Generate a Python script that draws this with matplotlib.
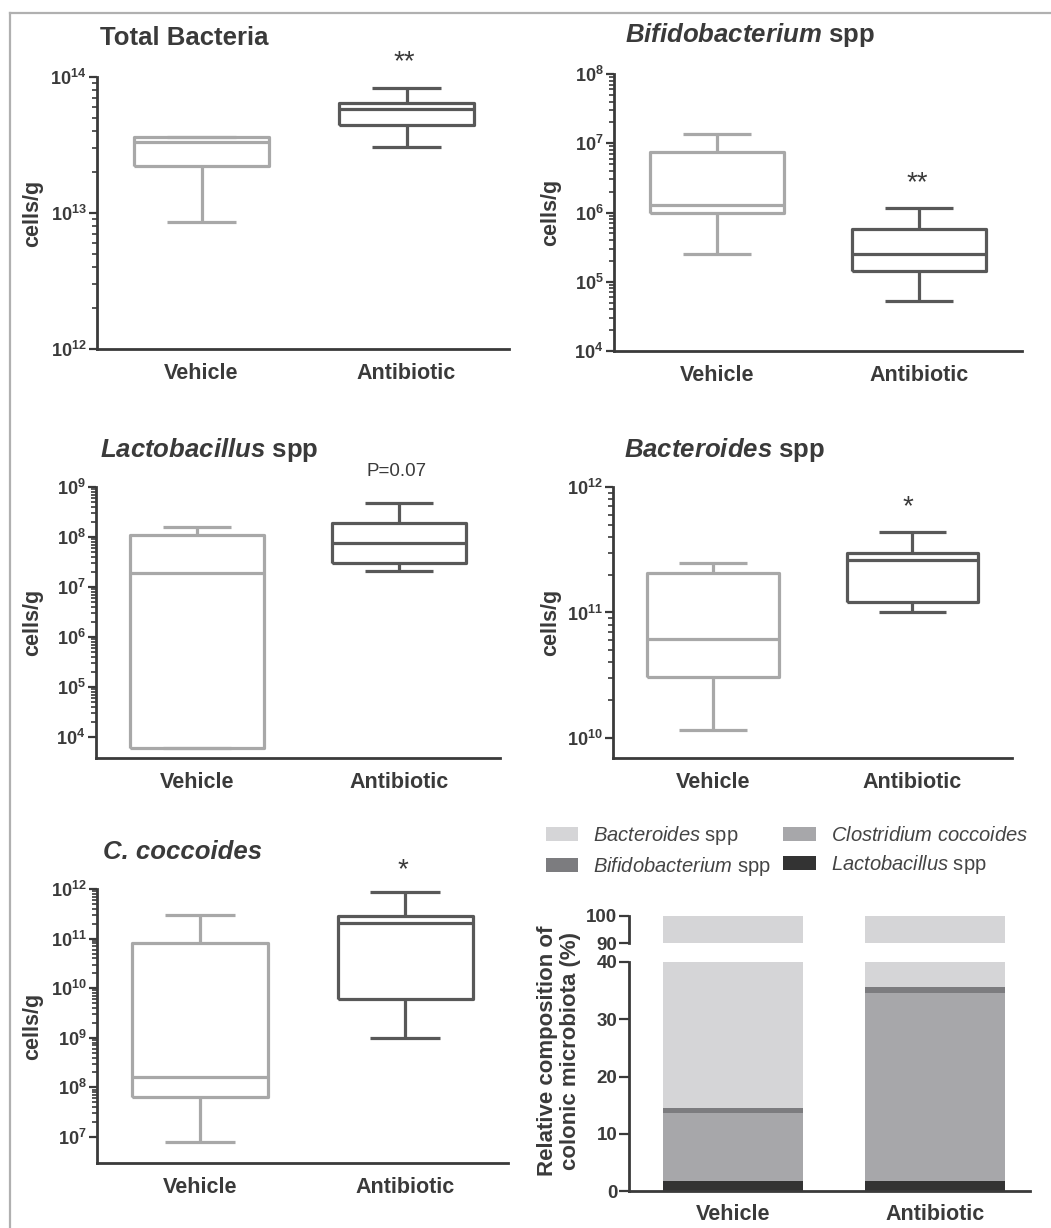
import numpy as np
import matplotlib
matplotlib.use("Agg")
import matplotlib.pyplot as plt
import matplotlib.ticker as mticker
from matplotlib.lines import Line2D
from matplotlib.patches import Patch

plt.rcParams['font.family'] = ['Liberation Sans', 'DejaVu Sans']
plt.rcParams['mathtext.fontset'] = 'custom'
plt.rcParams['mathtext.rm'] = 'Liberation Sans'
plt.rcParams['mathtext.bf'] = 'Liberation Sans:bold'
plt.rcParams['mathtext.it'] = 'Liberation Sans:italic'
plt.rcParams['mathtext.sf'] = 'Liberation Sans:italic:bold'

# --- data -------------------------------------------------------------
groups = ['Vehicle', 'Antibiotic']

# box plot stats, [Vehicle, Antibiotic]
total_whislo = [8.6e12, 3.05e13]
total_q1 = [2.2e13, 4.4e13]
total_med = [3.3e13, 5.8e13]
total_q3 = [3.6e13, 6.4e13]
total_whishi = [3.6e13, 8.3e13]

bifido_whislo = [2.5e5, 5.2e4]
bifido_q1 = [1.0e6, 1.42e5]
bifido_med = [1.28e6, 2.5e5]
bifido_q3 = [7.5e6, 5.7e5]
bifido_whishi = [1.36e7, 1.16e6]

lacto_whislo = [6.0e3, 2.1e7]
lacto_q1 = [6.0e3, 3.0e7]
lacto_med = [1.9e7, 7.6e7]
lacto_q3 = [1.1e8, 1.9e8]
lacto_whishi = [1.6e8, 4.8e8]

bactero_whislo = [1.16e10, 1.01e11]
bactero_q1 = [3.06e10, 1.21e11]
bactero_med = [6.15e10, 2.62e11]
bactero_q3 = [2.07e11, 2.98e11]
bactero_whishi = [2.5e11, 4.38e11]

cocc_whislo = [8.0e6, 1.0e9]
cocc_q1 = [6.4e7, 6.0e9]
cocc_med = [1.6e8, 2.07e11]
cocc_q3 = [8.1e10, 2.9e11]
cocc_whishi = [3.0e11, 8.7e11]

# relative composition (%), [Vehicle, Antibiotic]
comp_lacto = [1.75, 1.75]
comp_clost = [11.85, 32.85]
comp_bifido = [0.9, 1.0]
comp_bactero = [100 - a - b - c for a, b, c in zip(comp_lacto, comp_clost, comp_bifido)]

# --- figure -----------------------------------------------------------
W, H = 1051, 1228
fig = plt.figure(figsize=(W / 100, H / 100), dpi=100)
fig.patch.set_facecolor('white')

DARK = '#3a3a3a'
BOX_COLORS = ['#a8a8a8', '#585858']


def rect(l, t, r, b):
    return [l / W, 1 - b / H, (r - l) / W, (b - t) / H]


def fxy(x, y):
    return (x / W, 1 - y / H)


def style_axes(ax):
    for s in ('top', 'right'):
        ax.spines[s].set_visible(False)
    for s in ('left', 'bottom'):
        ax.spines[s].set_linewidth(2.0)
        ax.spines[s].set_color(DARK)
    ax.tick_params(axis='y', which='major', length=6, width=1.6, color=DARK,
                   pad=1.5, labelsize=13, labelcolor=DARK)
    ax.tick_params(axis='y', which='minor', length=3.5, width=1.2, color=DARK)
    ax.tick_params(axis='x', length=0, pad=10, labelsize=15.5, labelcolor=DARK)
    for lab in ax.get_xticklabels():
        lab.set_fontweight('bold')


def box_panel(box, stats, dec_lo, dec_hi, ylo, xlim):
    ax = fig.add_axes(rect(*box))
    whislo, q1, med, q3, whishi = stats
    for i in range(2):
        st = dict(whislo=whislo[i], q1=q1[i], med=med[i], q3=q3[i], whishi=whishi[i])
        c = BOX_COLORS[i]
        lp = dict(color=c, linewidth=2.3, solid_capstyle='butt')
        ax.bxp([st], positions=[i + 1], widths=0.66, capwidths=0.34,
               showfliers=False, manage_ticks=False,
               boxprops=lp, whiskerprops=lp, capprops=lp, medianprops=lp)
    ax.set_yscale('log')
    ax.set_ylim(10 ** ylo, 10 ** dec_hi)
    ax.set_xlim(*xlim)
    ax.yaxis.set_major_locator(mticker.FixedLocator([10.0 ** d for d in range(dec_lo, dec_hi + 1)]))
    ax.yaxis.set_major_formatter(mticker.FuncFormatter(
        lambda v, p: r'$\mathbf{10^{%d}}$' % round(np.log10(v))))
    ax.yaxis.set_minor_locator(mticker.FixedLocator(
        [s * 10.0 ** d for d in range(dec_lo, dec_hi) for s in range(2, 10)]))
    ax.yaxis.set_minor_formatter(mticker.NullFormatter())
    ax.set_xticks([1, 2])
    ax.set_xticklabels(groups)
    style_axes(ax)
    ax.set_ylabel('cells/g', fontsize=15.5, fontweight='bold', color=DARK)
    ax.yaxis.set_label_coords(-0.13, 0.5)
    return ax


def title(x, y, text, **kw):
    fig.text(*fxy(x, y), text, fontsize=18.5, fontweight='bold', color=DARK,
             ha='left', va='center', **kw)


def note(x, y, text, size=20):
    fig.text(*fxy(x, y), text, fontsize=size, color=DARK, ha='center', va='center')


# Total bacteria
box_panel((97, 77, 509, 349),
          (total_whislo, total_q1, total_med, total_q3, total_whishi),
          12, 14, 12, (0.49, 2.5))
title(100, 38, 'Total Bacteria')
note(404, 62, '**')

# Bifidobacterium
box_panel((614, 74, 1022, 351),
          (bifido_whislo, bifido_q1, bifido_med, bifido_q3, bifido_whishi),
          4, 8, 4, (0.49, 2.51))
title(625, 35, r'$\mathsf{Bifidobacterium}$ spp')
note(917, 183, '**')

# Lactobacillus
box_panel((96, 487, 500, 758),
          (lacto_whislo, lacto_q1, lacto_med, lacto_q3, lacto_whishi),
          4, 9, 3.58, (0.5, 2.5))
title(100, 450, r'$\mathsf{Lactobacillus}$ spp')
note(397, 472, 'P=0.07', size=13.5)

# Bacteroides
box_panel((613, 487, 1012, 758),
          (bactero_whislo, bactero_q1, bactero_med, bactero_q3, bactero_whishi),
          10, 12, 9.84, (0.497, 2.5))
title(624, 450, r'$\mathsf{Bacteroides}$ spp')
note(908, 507, '*')

# C. coccoides
box_panel((97, 889, 508, 1163),
          (cocc_whislo, cocc_q1, cocc_med, cocc_q3, cocc_whishi),
          7, 12, 6.476, (0.498, 2.5))
title(103, 852, 'C. coccoides', fontstyle='italic')
note(403, 870, '*')

# --- relative composition (broken axis) ------------------------------
comp_series = [comp_lacto, comp_clost, comp_bifido, comp_bactero]
comp_colors = ['#333333', '#a7a7aa', '#7c7c7f', '#d5d5d7']
comp_labels = [r'$\mathit{Lactobacillus}$ spp', r'$\mathit{Clostridium\ coccoides}$',
               r'$\mathit{Bifidobacterium}$ spp', r'$\mathit{Bacteroides}$ spp']

ax_lo = fig.add_axes(rect(629, 962, 1030, 1191))
ax_hi = fig.add_axes(rect(629, 916, 1030, 943))
x = np.arange(1, 3)
for ax in (ax_lo, ax_hi):
    bottom = np.zeros(2)
    for vals, col in zip(comp_series, comp_colors):
        ax.bar(x, vals, 0.69, bottom=bottom, color=col, linewidth=0)
        bottom += np.array(vals)
    ax.set_xlim(0.485, 2.47)
    style_axes(ax)
    ax.tick_params(axis='y', which='major', length=7, labelsize=13.5)
    for lab in ax.get_yticklabels():
        lab.set_fontweight('bold')

ax_lo.set_ylim(0, 40)
ax_lo.set_yticks([0, 10, 20, 30, 40])
ax_lo.set_xticks(x)
ax_lo.set_xticklabels(groups)
ax_lo.tick_params(axis='x', pad=9)
for lab in ax_lo.get_xticklabels() + ax_lo.get_yticklabels():
    lab.set_fontweight('bold')

ax_hi.set_ylim(90, 100)
ax_hi.set_yticks([90, 100])
ax_hi.spines['bottom'].set_visible(False)
ax_hi.set_xticks([])
for lab in ax_hi.get_yticklabels():
    lab.set_fontweight('bold')

fig.text(*fxy(559, 1051), 'Relative composition of\ncolonic microbiota (%)',
         rotation=90, ha='center', va='center', multialignment='center',
         fontsize=16, fontweight='bold', color=DARK, linespacing=1.15)

order = [3, 2, 1, 0]
handles = [Patch(facecolor=comp_colors[i], edgecolor='none') for i in order]
labels = [comp_labels[i] for i in order]
leg = fig.legend(handles, labels, ncol=2, loc='upper left', bbox_to_anchor=fxy(546, 824),
                 frameon=False, fontsize=14.5, handlelength=1.6, handleheight=0.75,
                 handletextpad=0.75, columnspacing=0.6, labelspacing=0.4,
                 borderpad=0, borderaxespad=0)
for t in leg.get_texts():
    t.set_color('#444444')

# frame lines at top and left
fig.add_artist(Line2D([10 / W, 1], [1 - 13 / H, 1 - 13 / H], color='#b0b0b0',
                      lw=1.6, transform=fig.transFigure))
fig.add_artist(Line2D([10 / W, 10 / W], [0, 1 - 13 / H], color='#b0b0b0',
                      lw=1.6, transform=fig.transFigure))

fig.savefig('out.png', dpi=100)
